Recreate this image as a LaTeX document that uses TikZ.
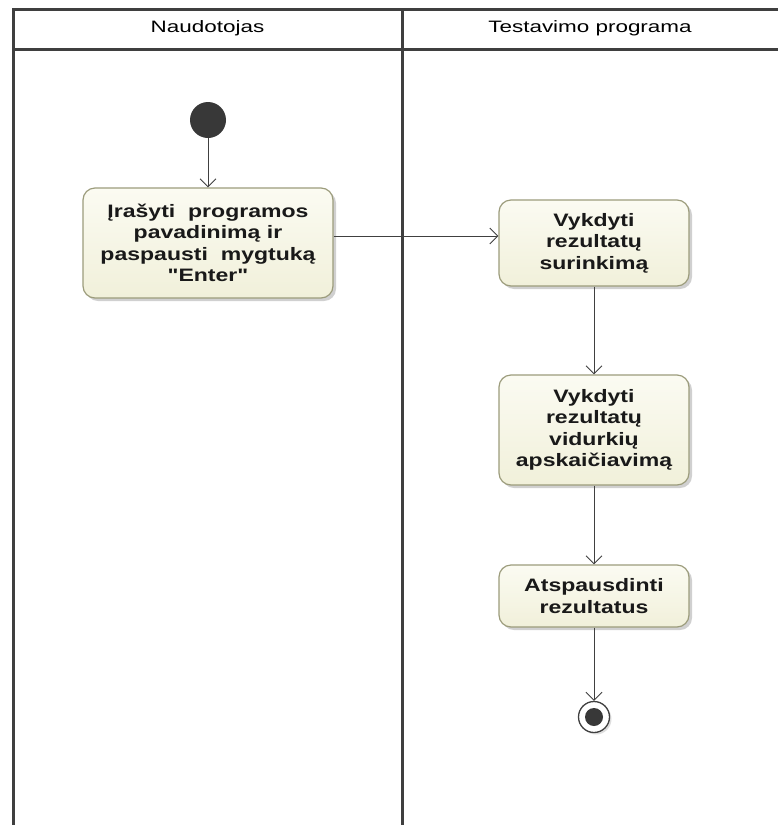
\documentclass[tikz,border=0pt]{standalone}
\usepackage{fontspec}
\setmainfont{Liberation Sans}
\newfontfamily\titlefont[FakeStretch=1.36]{Liberation Sans}
\newfontfamily\actfont[FakeStretch=1.28]{Liberation Sans}
\usetikzlibrary{arrows.meta,shadows}
\definecolor{lanegray}{HTML}{3F3F3F}
\definecolor{actfill}{HTML}{F1F0DA}
\definecolor{actfilltop}{HTML}{FBFBF2}
\definecolor{actdraw}{HTML}{9C9C7C}
\definecolor{nodedark}{HTML}{383838}
\tikzset{
  lane/.style={draw=lanegray, line width=3pt},
  lanetitle/.style={font=\titlefont\fontsize{16.5}{19}\selectfont, text=black},
  action/.style={draw=actdraw, line width=1.2pt, rounded corners=12pt,
    top color=actfilltop, bottom color=actfill, align=center,
    font=\actfont\bfseries\fontsize{18}{21.5}\selectfont, text=black!90,
    drop shadow={shadow xshift=3pt, shadow yshift=-3pt, fill=black!30, opacity=0.6},
    inner sep=0pt},
  flow/.style={draw=black!75, line width=0.9pt,
    -{Straight Barb[length=8pt, width=16pt, line width=0.9pt]}},
}
\begin{document}
\begin{tikzpicture}[x=1pt, y=-1pt]
  \useasboundingbox (0,0) rectangle (778,825);
  \fill[white] (0,0) rectangle (778,825);

  % swimlane frame
  \draw[lane] (780,9) -- (13,9) -- (13,830);
  \draw[lane] (13,49) -- (780,49);
  \draw[lane] (402,9) -- (402,830);
  \node[lanetitle] (laneA) at (207.5,28) {Naudotojas};
  \node[lanetitle] (laneB) at (590,28) {Testavimo programa};

  % initial and final nodes
  \node[circle, fill=nodedark, minimum size=36pt, inner sep=0pt] (start) at (208,120) {};
  \node[circle, draw=black!75, line width=1.3pt, fill=white, minimum size=31pt, inner sep=0pt,
        drop shadow={shadow xshift=2pt, shadow yshift=-2pt, fill=black!25}] (stop) at (594,717) {};
  \node[circle, fill=nodedark, minimum size=18pt, inner sep=0pt] (stopdot) at (stop.center) {};

  % actions
  \node[action, minimum width=250pt, minimum height=110pt] (enter) at (208,243)
    {Įrašyti\ \ programos\\pavadinimą ir\\paspausti\ \ mygtuką\\\symbol{34}Enter\symbol{34}};
  \node[action, minimum width=190pt, minimum height=86pt] (collect) at (594,243)
    {Vykdyti\\rezultatų\\surinkimą};
  \node[action, minimum width=190pt, minimum height=110pt] (average) at (594,430)
    {Vykdyti\\rezultatų\\vidurkių\\apskaičiavimą};
  \node[action, minimum width=190pt, minimum height=62pt] (print) at (594,596)
    {Atspausdinti\\rezultatus};

  % control flows
  \draw[flow] (start) -- (enter);
  \draw[flow] (enter.east |- 0,236) -- (collect.west |- 0,236);
  \draw[flow] (collect) -- (average);
  \draw[flow] (average) -- (print);
  \draw[flow] (print) -- (stop);
\end{tikzpicture}
\end{document}
